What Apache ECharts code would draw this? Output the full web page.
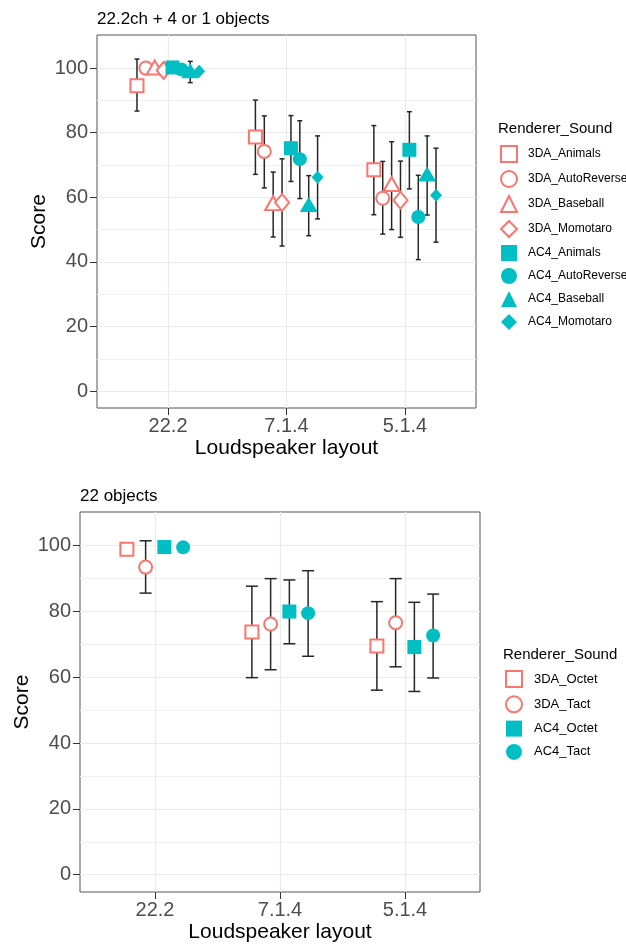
<!DOCTYPE html>
<html>
<head>
<meta charset="utf-8">
<title>Score by loudspeaker layout</title>
<script src="https://cdn.jsdelivr.net/npm/echarts@6.0.0/dist/echarts.min.js"></script>
<style>
  html, body { margin: 0; padding: 0; background: #fff; }
  #chart { width: 626px; height: 945px; }
</style>
</head>
<body>
<div id="chart"></div>
<script>
// categories on the x axis (both panels)
const layouts = ['22.2', '7.1.4', '5.1.4'];

// panel 1: 22.2ch + 4 or 1 objects
const topGroups = ['3DA_Animals', '3DA_AutoReverse', '3DA_Baseball', '3DA_Momotaro',
  'AC4_Animals', 'AC4_AutoReverse', 'AC4_Baseball', 'AC4_Momotaro'];
const topMean = [
  [94.5, 78.7, 68.5],
  [100.0, 74.2, 59.7],
  [100.2, 58.2, 64.1],
  [99.3, 58.4, 59.1],
  [100.2, 75.2, 74.7],
  [99.6, 71.8, 53.9],
  [99.2, 57.8, 67.2],
  [99.0, 66.2, 60.6]
];
const topLower = [
  [86.7, 67.1, 54.6],
  [null, 62.9, 48.6],
  [null, 47.7, 50.0],
  [null, 44.9, 47.6],
  [null, 64.9, 62.6],
  [null, 59.6, 40.7],
  [95.5, 48.1, 54.5],
  [null, 53.3, 46.1]
];
const topUpper = [
  [102.8, 90.1, 82.2],
  [null, 85.2, 71.1],
  [null, 67.8, 77.2],
  [null, 71.9, 71.2],
  [null, 85.3, 86.5],
  [null, 83.7, 66.8],
  [102.1, 66.7, 79.0],
  [null, 79.0, 75.2]
];

// panel 2: 22 objects
const botGroups = ['3DA_Octet', '3DA_Tact', 'AC4_Octet', 'AC4_Tact'];
const botMean = [
  [98.9, 73.8, 69.5],
  [93.5, 76.2, 76.6],
  [99.6, 80.0, 69.2],
  [99.5, 79.5, 72.7]
];
const botLower = [
  [null, 59.9, 56.1],
  [85.6, 62.3, 63.2],
  [null, 70.2, 55.7],
  [null, 66.4, 59.8]
];
const botUpper = [
  [null, 87.7, 83.0],
  [101.5, 90.0, 90.0],
  [null, 89.6, 82.8],
  [null, 92.4, 85.3]
];

const yTicks = [0, 20, 40, 60, 80, 100];
const yMinorTicks = [10, 30, 50, 70, 90];

const RED = '#F8766D';
const TEAL = '#00BFC4';
const FONT = '"Liberation Sans", Arial, sans-serif';
const DODGE = 0.6;

const openSize = { rect: 13, circle: 13, triangle: [16, 14], diamond: [14, 17] };
const filledSize = { rect: 14, circle: 14, triangle: [18, 15], diamond: [12, 13] };

const shapeOf = (group) => {
  const sound = group.split('_')[1];
  return { Animals: 'rect', Octet: 'rect', AutoReverse: 'circle', Tact: 'circle',
    Baseball: 'triangle', Momotaro: 'diamond' }[sound];
};

const errorBar = (capHalf) => (params, api) => {
  const x = api.value(0);
  const hi = api.coord([x, api.value(2)]);
  const lo = api.coord([x, api.value(1)]);
  const half = api.size([capHalf, 0])[0];
  const style = { stroke: '#262626', lineWidth: 1.5 };
  return {
    type: 'group',
    children: [
      { type: 'line', shape: { x1: hi[0], y1: hi[1], x2: lo[0], y2: lo[1] }, style },
      { type: 'line', shape: { x1: hi[0] - half, y1: hi[1], x2: hi[0] + half, y2: hi[1] }, style },
      { type: 'line', shape: { x1: lo[0] - half, y1: lo[1], x2: lo[0] + half, y2: lo[1] }, style }
    ]
  };
};

const buildSeries = (groups, mean, lower, upper, axisIndex, capHalf) => {
  const out = [];
  const n = groups.length;
  const step = DODGE / n;
  for (let g = 0; g < n; g++) {
    const offset = (g - (n - 1) / 2) * step;
    const bars = [];
    for (let i = 0; i < layouts.length; i++) {
      if (lower[g][i] !== null) {
        bars.push([i + 1 + offset, lower[g][i], upper[g][i]]);
      }
    }
    out.push({
      name: 'err ' + groups[g],
      type: 'custom',
      xAxisIndex: axisIndex,
      yAxisIndex: axisIndex * 2,
      renderItem: errorBar(capHalf),
      encode: { x: 0, y: [1, 2] },
      data: bars,
      z: 1,
      silent: true
    });
  }
  for (let g = 0; g < n; g++) {
    const offset = (g - (n - 1) / 2) * step;
    const shape = shapeOf(groups[g]);
    const open = groups[g].startsWith('3DA');
    out.push({
      name: groups[g],
      type: 'scatter',
      xAxisIndex: axisIndex,
      yAxisIndex: axisIndex * 2,
      symbol: shape,
      symbolSize: open ? openSize[shape] : filledSize[shape],
      itemStyle: open
        ? { color: '#ffffff', borderColor: RED, borderWidth: 2, opacity: 1 }
        : { color: TEAL, borderWidth: 0, opacity: 1 },
      data: layouts.map((l, i) => [i + 1 + offset, mean[g][i]]),
      z: 2,
      silent: true
    });
  }
  return out;
};

const xAxisFor = (gridIndex) => ({
  gridIndex,
  type: 'value',
  min: 0.4,
  max: 3.6,
  name: 'Loudspeaker layout',
  nameLocation: 'middle',
  nameGap: 30,
  nameMoveOverlap: false,
  nameTextStyle: { fontSize: 21, color: '#000', fontFamily: FONT },
  axisLine: { show: false, onZero: false },
  axisTick: { show: true, length: 7, lineStyle: { color: '#333', width: 1 }, customValues: [1, 2, 3] },
  axisLabel: {
    customValues: [1, 2, 3],
    formatter: (v) => layouts[Math.round(v) - 1],
    fontSize: 20, color: '#4d4d4d', margin: 8, fontFamily: FONT
  },
  splitLine: { show: true, lineStyle: { color: '#ebebeb', width: 1.2 } }
});

const yAxesFor = (gridIndex) => ([
  {
    gridIndex,
    type: 'value',
    min: -5.25,
    max: 110.25,
    name: 'Score',
    nameLocation: 'middle',
    nameGap: 47,
    nameRotate: 90,
    nameMoveOverlap: false,
    nameTextStyle: { fontSize: 21, color: '#000', fontFamily: FONT },
    axisLine: { show: false, onZero: false },
    axisTick: { show: true, length: 7, lineStyle: { color: '#333', width: 1 }, customValues: yTicks },
    axisLabel: { customValues: yTicks, fontSize: 20, color: '#4d4d4d', margin: 9, fontFamily: FONT },
    splitLine: { show: true, lineStyle: { color: '#ebebeb', width: 1.2 } }
  },
  {
    gridIndex,
    type: 'value',
    position: 'left',
    min: -5.25,
    max: 110.25,
    axisLine: { show: false, onZero: false },
    axisTick: { show: false, customValues: yMinorTicks },
    axisLabel: { show: false, customValues: yMinorTicks },
    splitLine: { show: true, lineStyle: { color: '#f0f0f0', width: 1 } }
  }
]);

const titleStyle = (size) => ({ fontSize: size, fontWeight: 'normal', color: '#000', fontFamily: FONT });

const option = {
  animation: false,
  backgroundColor: '#ffffff',
  textStyle: { fontFamily: FONT },
  title: [
    { text: '22.2ch + 4 or 1 objects', left: 97, top: 11, padding: 0, textStyle: titleStyle(17) },
    { text: 'Renderer_Sound', left: 498, top: 121, padding: 0, textStyle: titleStyle(15) },
    { text: '22 objects', left: 80, top: 488, padding: 0, textStyle: titleStyle(17) },
    { text: 'Renderer_Sound', left: 503, top: 647, padding: 0, textStyle: titleStyle(15) }
  ],
  legend: [
    {
      data: topGroups, orient: 'vertical', left: 500, top: 145, padding: 0,
      itemWidth: 16, itemHeight: 16, itemGap: 7, selectedMode: false,
      textStyle: { fontSize: 12, color: '#000', fontFamily: FONT, padding: [0, 0, 0, 6] }
    },
    {
      data: botGroups, orient: 'vertical', left: 505, top: 670, padding: 0,
      itemWidth: 16, itemHeight: 16, itemGap: 7.3, selectedMode: false,
      textStyle: { fontSize: 13, color: '#000', fontFamily: FONT, padding: [0, 0, 0, 7] }
    }
  ],
  grid: [
    { left: 97, top: 35, width: 379, height: 373, show: true, borderColor: '#555', borderWidth: 1,
      backgroundColor: '#fff', outerBoundsMode: 'none' },
    { left: 80, top: 512, width: 400, height: 380, show: true, borderColor: '#555', borderWidth: 1,
      backgroundColor: '#fff', outerBoundsMode: 'none' }
  ],
  xAxis: [xAxisFor(0), xAxisFor(1)],
  yAxis: [...yAxesFor(0), ...yAxesFor(1)],
  series: [
    ...buildSeries(topGroups, topMean, topLower, topUpper, 0, 0.021),
    ...buildSeries(botGroups, botMean, botLower, botUpper, 1, 0.048)
  ]
};

const chart = echarts.init(document.getElementById('chart'), null, { renderer: 'canvas' });
chart.setOption(option);
</script>
</body>
</html>
